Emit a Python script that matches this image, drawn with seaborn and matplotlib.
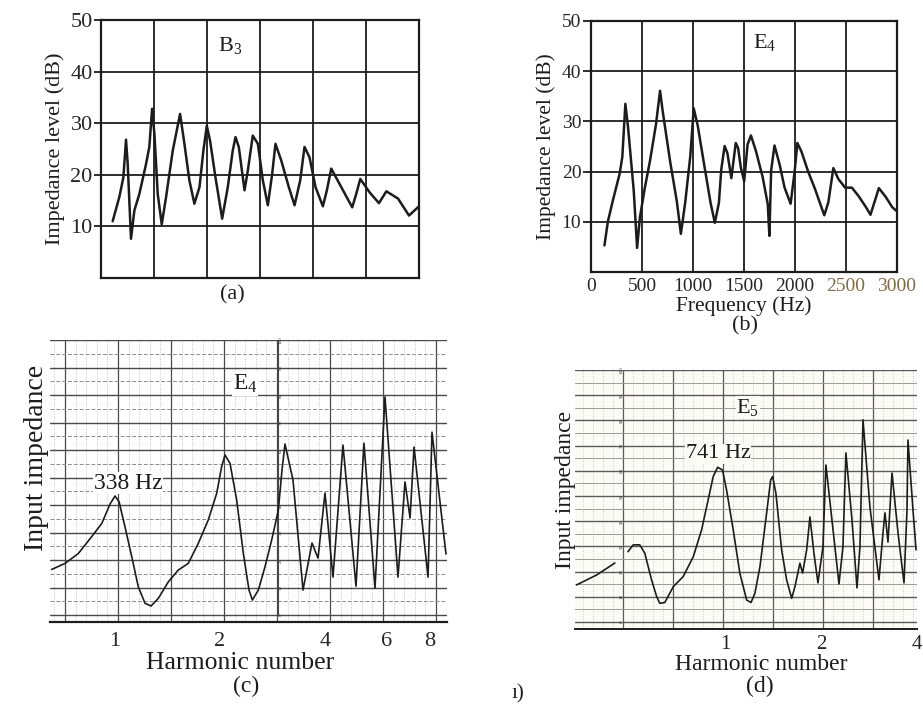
import numpy as np
import pandas as pd
import matplotlib
matplotlib.use("Agg")
import matplotlib.pyplot as plt
import seaborn as sns
from matplotlib.ticker import FixedLocator, NullLocator, NullFormatter

# ---------------- data ----------------
# (a) B3 : impedance level (dB) vs frequency (Hz), x axis unlabeled (0-3000 Hz)
a_freq = [110, 173, 211, 236, 252, 283, 315, 362, 425, 456, 482, 504, 535, 573, 614, 677,
          746, 787, 834, 881, 929, 966, 998, 1029, 1080, 1143, 1196, 1243, 1269, 1300, 1354,
          1385, 1432, 1480, 1527, 1574, 1615, 1646, 1700, 1772, 1826, 1879, 1920, 1967, 2024,
          2093, 2131, 2172, 2267, 2370, 2408, 2446, 2534, 2622, 2692, 2802, 2906, 3000]
a_db = [11.0, 15.7, 19.5, 26.8, 22.1, 7.6, 13.1, 16.3, 22.1, 25.4, 32.8, 27.9, 16.3, 10.4, 15.7, 24.7,
        31.8, 26.0, 18.9, 14.4, 17.6, 24.7, 29.5, 26.6, 19.5, 11.5, 17.6, 24.7, 27.3, 25.4, 17.0,
        20.8, 27.6, 26.0, 18.9, 14.1, 20.2, 26.0, 22.8, 17.6, 14.1, 18.9, 25.4, 23.4, 17.6,
        13.9, 17.0, 21.2, 17.6, 13.7, 16.3, 19.2, 16.6, 14.5, 16.8, 15.4, 12.1, 13.9]

# (b) E4 : impedance level (dB) vs frequency (Hz)
b_freq = [132, 165, 215, 281, 307, 337, 363, 419, 452, 479, 528, 578, 637, 677, 703, 776, 842,
          881, 924, 974, 1007, 1046, 1106, 1172, 1214, 1254, 1277, 1310, 1337, 1376, 1419, 1442,
          1469, 1502, 1535, 1568, 1617, 1683, 1733, 1749, 1766, 1799, 1848, 1898, 1957, 1997,
          2023, 2063, 2129, 2195, 2287, 2327, 2376, 2426, 2492, 2558, 2624, 2690, 2740, 2822,
          2888, 2954, 3010]
b_db = [5.3, 10.0, 14.3, 19.6, 22.9, 33.5, 28.9, 16.2, 4.8, 10.8, 16.8, 22.1, 29.4, 36.1, 32.0,
        22.0, 14.0, 7.6, 13.9, 23.2, 32.6, 29.2, 21.8, 13.8, 9.8, 13.8, 20.4, 25.1, 23.7, 18.7,
        25.7, 24.7, 20.8, 18.1, 25.4, 27.2, 24.1, 18.9, 13.5, 7.2, 20.2, 25.2, 21.5, 16.8, 13.6,
        20.1, 25.7, 24.0, 20.0, 16.6, 11.3, 13.9, 20.7, 18.5, 16.8, 16.8, 15.1, 13.1, 11.4,
        16.7, 15.0, 12.9, 11.9]

# (c) E4 : input impedance (chart units) vs harmonic number
c_harm = [0.658, 0.719, 0.785, 0.857, 0.916, 0.968, 1.0, 1.027, 1.068, 1.117, 1.166, 1.219,
          1.268, 1.331, 1.422, 1.519, 1.622, 1.733, 1.851, 1.957, 2.022, 2.067, 2.136, 2.233,
          2.333, 2.422, 2.476, 2.576, 2.692, 2.813, 2.939, 3.011, 3.071, 3.238, 3.459, 3.671,
          3.819, 4.0, 4.216, 4.504, 4.908, 5.173, 5.564, 5.943, 6.476, 6.783, 7.013, 7.200,
          7.897, 8.106, 8.890]
c_imp = [16.6, 18.8, 22.4, 28.5, 33.3, 40.4, 43.3, 41.2, 32.1, 21.2, 10.3, 4.3, 3.3, 6.1, 12.1,
         16.4, 18.8, 26.1, 34.6, 44.3, 54.0, 58.2, 55.2, 41.8, 22.4, 9.1, 5.5, 9.1, 17.6, 27.3,
         38.1, 52.7, 62.2, 49.1, 9.1, 26.2, 20.7, 44.4, 13.8, 61.8, 10.5, 62.5, 9.8, 79.3, 13.8,
         48.4, 35.3, 61.1, 13.8, 66.5, 22.2]

# (d) E5 : input impedance vs harmonic number (short lead-in trace, then main trace)
d_lead_harm = [0.343, 0.397, 0.452]
d_lead_imp = [14.7, 18.7, 23.4]
d_harm = [0.497, 0.516, 0.541, 0.561, 0.589, 0.611, 0.625, 0.648, 0.689, 0.740, 0.796, 0.845,
          0.886, 0.919, 0.949, 0.983, 1.012, 1.062, 1.114, 1.170, 1.207, 1.242, 1.288, 1.351,
          1.391, 1.411, 1.445, 1.506, 1.561, 1.619, 1.658, 1.718, 1.752, 1.804, 1.847, 1.901,
          1.957, 2.029, 2.073, 2.165, 2.278, 2.344, 2.395, 2.502, 2.594, 2.650, 2.709, 2.848,
          3.040, 3.129, 3.175, 3.244, 3.340, 3.488, 3.642, 3.721, 3.748, 3.886, 3.972]
d_imp = [27.9, 30.6, 30.6, 27.3, 16.7, 10.1, 7.4, 7.7, 14.0, 18.0, 25.9, 36.5, 48.4, 57.7, 61.4,
         60.3, 52.4, 36.5, 19.3, 8.7, 7.7, 11.4, 22.0, 43.1, 56.3, 57.7, 51.1, 28.6, 16.7, 9.4,
         14.0, 23.3, 19.4, 28.6, 41.7, 27.4, 15.5, 29.8, 62.3, 40.5, 15.1, 29.8, 67.1, 40.5,
         13.5, 29.8, 80.2, 45.6, 16.7, 35.3, 43.3, 31.7, 59.1, 35.3, 15.5, 44.4, 72.2, 44.4, 28.6]

freq_ticks = [0, 500, 1000, 1500, 2000, 2500, 3000]
db_ticks = [10, 20, 30, 40, 50]
c_ticks = [1, 2, 3, 4, 5, 6, 7, 8]
c_ticklabels = ["1", "2", "", "4", "", "6", "", "8"]
d_ticks = [1, 1.5, 2, 3, 4]
d_ticklabels = ["1", "", "2", "", "4"]
paper_scale = [0, 10, 20, 30, 40, 50, 60, 70, 80, 90, 100]

# ---------------- style ----------------
sns.set_style("white")
plt.rcParams['font.family'] = ['Liberation Serif', 'DejaVu Serif']
plt.rcParams['mathtext.fontset'] = 'custom'
plt.rcParams['mathtext.rm'] = 'Liberation Serif'
plt.rcParams['mathtext.it'] = 'Liberation Serif:italic'

W, H = 923, 706
fig = plt.figure(figsize=(W / 100, H / 100), dpi=100)
fig.patch.set_facecolor('white')
INK = '#1c1c1c'


def rect(l, t, r, b):
    return [l / W, 1 - b / H, (r - l) / W, (b - t) / H]


def ftext(x, y, s, **kw):
    fig.text(x / W, 1 - y / H, s, ha='center', va='center', color=INK, **kw)


# ---------------- (a) ----------------
ax_a = fig.add_axes(rect(101, 20, 419, 278))
sns.lineplot(x=a_freq, y=a_db, ax=ax_a, color=INK, lw=1.8, sort=False)
ax_a.set_xlim(0, 3000)
ax_a.set_ylim(0, 50)
ax_a.set_xticks(freq_ticks)
ax_a.set_xticklabels([])
ax_a.set_yticks(db_ticks)
ax_a.set_yticklabels([str(v) for v in db_ticks], fontsize=16)
ax_a.tick_params(axis='y', length=5, width=1.3, pad=1, color=INK, direction='out', left=True)
ax_a.tick_params(axis='x', length=0)
ax_a.grid(True, color=INK, lw=1.3)
for s in ax_a.spines.values():
    s.set_color(INK)
    s.set_linewidth(1.6)
ax_a.set_ylabel("Impedance level (dB)", fontsize=16, color=INK, labelpad=4)
ax_a.text(1217, 45, r"$\mathrm{B_3}$", fontsize=16, ha='center', va='center', color=INK)
ftext(232, 295, "(a)", fontsize=16)

# ---------------- (b) ----------------
ax_b = fig.add_axes(rect(591, 21, 897, 272))
sns.lineplot(x=b_freq, y=b_db, ax=ax_b, color=INK, lw=1.8, sort=False)
ax_b.set_xlim(0, 3000)
ax_b.set_ylim(0, 50)
ax_b.set_xticks(freq_ticks)
ax_b.set_xticklabels([str(v) for v in freq_ticks], fontsize=14)
ax_b.set_yticks(db_ticks)
ax_b.set_yticklabels([str(v) for v in db_ticks], fontsize=14)
ax_b.tick_params(axis='y', length=6, width=1.3, pad=1, color=INK, direction='out', left=True)
ax_b.tick_params(axis='x', length=0, pad=4)
for lbl in ax_b.get_xticklabels()[-2:]:
    lbl.set_color('#7d6b45')
ax_b.grid(True, color=INK, lw=1.3)
for s in ax_b.spines.values():
    s.set_color(INK)
    s.set_linewidth(1.6)
ax_b.set_ylabel("Impedance level (dB)", fontsize=15.5, color=INK, labelpad=4)
ax_b.set_xlabel("Frequency (Hz)", fontsize=15.5, color=INK, labelpad=1)
ax_b.text(1706, 45.8, r"$\mathrm{E_4}$", fontsize=16, ha='center', va='center', color=INK)
ftext(745, 326, "(b)", fontsize=16)


# ---------------- chart-paper helper ----------------
def paper(rc, xpx, ylo, vmaj, vmin, hmaj_c, hmin_c, vmaj_c, vmin_c, hmin_ls, vmin_ls, face):
    bg = fig.add_axes(rc, zorder=0)
    bg.set_facecolor(face)
    bg.set_xlim(*xpx)
    bg.set_ylim(ylo, 100)
    bg.xaxis.set_major_locator(FixedLocator(vmaj))
    bg.xaxis.set_minor_locator(FixedLocator(vmin))
    bg.yaxis.set_major_locator(FixedLocator(paper_scale))
    bg.yaxis.set_minor_locator(FixedLocator([v + 5 for v in paper_scale[:-1]]))
    bg.grid(True, which='major', axis='y', color=hmaj_c, lw=1.0)
    bg.grid(True, which='minor', axis='y', color=hmin_c, lw=0.7, ls=hmin_ls)
    bg.grid(True, which='major', axis='x', color=vmaj_c, lw=0.9)
    bg.grid(True, which='minor', axis='x', color=vmin_c, lw=0.6, ls=vmin_ls)
    bg.tick_params(which='both', length=0, labelbottom=False, labelleft=False)
    for s in bg.spines.values():
        s.set_visible(False)
    return bg


# ---------------- (c) ----------------
rc_c = rect(50, 340, 447, 622)
bg_c = paper(rc_c, (50, 447), -2.5,
             list(np.arange(65, 447, 53)), list(np.arange(54.4, 447, 10.6)),
             '#4a4a4a', '#8c8c8c', '#4a4a4a', '#b0b0b0', (0, (4, 2)), (0, (1, 2)), 'white')
# small printed scale of the right-hand chart paper
for v in paper_scale:
    bg_c.text(281, v, str(v), fontsize=3.6, rotation=90, ha='center', va='center', color='#333333')
bg_c.plot([278, 278], [0, 100], color='#444444', lw=0.8)

ax_c = fig.add_axes(rc_c, zorder=2)
ax_c.set_facecolor('none')
ax_c.set_xscale('log')
sns.lineplot(x=c_harm, y=c_imp, ax=ax_c, color=INK, lw=1.2, sort=False)
ax_c.set_xlim(0.651, 8.95)
ax_c.set_ylim(-2.5, 100)
ax_c.xaxis.set_major_locator(FixedLocator(c_ticks))
ax_c.xaxis.set_minor_locator(NullLocator())
ax_c.xaxis.set_minor_formatter(NullFormatter())
ax_c.set_xticklabels(c_ticklabels, fontsize=16)
ax_c.set_yticks([])
ax_c.tick_params(axis='x', length=6, width=1.5, direction='inout', color=INK, pad=4)
for k, s in ax_c.spines.items():
    s.set_visible(k == 'bottom')
ax_c.spines['bottom'].set_color(INK)
ax_c.spines['bottom'].set_linewidth(1.6)
ax_c.text(1.09, 48.0, "338 Hz", fontsize=17, ha='center', va='center', color=INK,
          bbox=dict(facecolor='white', edgecolor='none', pad=0.5))
ax_c.text(2.36, 84, r"$\mathrm{E_4}$", fontsize=17, ha='center', va='center', color=INK,
          bbox=dict(facecolor='white', edgecolor='none', pad=0.5))
ftext(37, 458, "Input impedance", fontsize=20, rotation=90)
ftext(240, 663, "Harmonic number", fontsize=18.5)
ftext(246, 686, "(c)", fontsize=17)

# ---------------- (d) ----------------
rc_d = rect(575, 370, 917, 629)
bg_d = paper(rc_d, (575, 917), -2.8,
             list(np.arange(623, 917, 50)), list(np.arange(583, 917, 10)),
             '#5a5a5a', '#9a9a9a', '#5a5a5a', '#b8b8b8', '-', (0, (1, 2)), '#fdfbf5')
for v in paper_scale:
    bg_d.text(622, v, str(v), fontsize=3.6, rotation=90, ha='center', va='center', color='#333333')

ax_d = fig.add_axes(rc_d, zorder=2)
ax_d.set_facecolor('none')
ax_d.set_xscale('log')
sns.lineplot(x=d_lead_harm, y=d_lead_imp, ax=ax_d, color=INK, lw=1.2, sort=False)
sns.lineplot(x=d_harm, y=d_imp, ax=ax_d, color=INK, lw=1.2, sort=False)
ax_d.set_xlim(0.339, 4.0)
ax_d.set_ylim(-2.8, 100)
ax_d.xaxis.set_major_locator(FixedLocator(d_ticks))
ax_d.xaxis.set_minor_locator(NullLocator())
ax_d.xaxis.set_minor_formatter(NullFormatter())
ax_d.set_xticklabels(d_ticklabels, fontsize=15)
ax_d.set_yticks([])
ax_d.tick_params(axis='x', length=6, width=1.5, direction='inout', color=INK, pad=1)
for k, s in ax_d.spines.items():
    s.set_visible(k == 'bottom')
ax_d.spines['bottom'].set_color(INK)
ax_d.spines['bottom'].set_linewidth(1.4)
ax_d.text(0.951, 66.7, "741 Hz", fontsize=16, ha='center', va='center', color=INK,
          bbox=dict(facecolor='#fdfbf5', edgecolor='none', pad=0.5))
ax_d.text(1.18, 85.3, r"$\mathrm{E_5}$", fontsize=16, ha='center', va='center', color=INK,
          bbox=dict(facecolor='#fdfbf5', edgecolor='none', pad=0.5))
ftext(565, 490, "Input impedance", fontsize=17, rotation=90)
ftext(761, 664, "Harmonic number", fontsize=17)
ftext(760, 686, "(d)", fontsize=17)
ftext(518, 694, "ı)", fontsize=15)

fig.savefig("out.png", dpi=100, facecolor='white')
